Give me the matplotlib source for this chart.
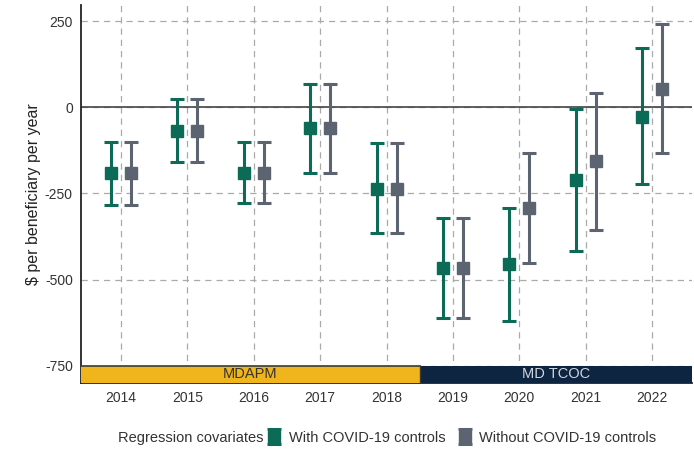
import matplotlib.pyplot as plt
import numpy as np

plt.rcParams['font.family'] = ['Liberation Sans', 'DejaVu Sans']

years = [2014, 2015, 2016, 2017, 2018, 2019, 2020, 2021, 2022]

# estimates and 95% interval bounds, $ per beneficiary per year
with_est = [-192, -70, -190, -61, -236, -465, -454, -212, -29]
with_lo = [-285, -160, -277, -192, -366, -611, -619, -416, -224]
with_hi = [-101, 23, -101, 67, -105, -320, -291, -6, 171]

without_est = [-192, -70, -190, -61, -236, -465, -291, -157, 52]
without_lo = [-285, -160, -277, -192, -366, -611, -451, -355, -134]
without_hi = [-101, 23, -101, 67, -105, -320, -134, 41, 241]

green = '#0b6b57'
grey = '#5b6470'
gold = '#f0b41c'
navy = '#0e2541'

fig = plt.figure(figsize=(6.94, 4.5), dpi=100)
ax = fig.add_axes([0.117, 0.149, 0.88, 0.84])

x = np.array(years)
dodge = 0.15

def draw(xs, est, lo, hi, color, label):
    est = np.array(est)
    err = [est - np.array(lo), np.array(hi) - est]
    ax.errorbar(xs, est, yerr=err, fmt='s', color=color, ecolor=color,
                elinewidth=2.2, capsize=5, capthick=2.2, markersize=8,
                label=label, zorder=4)

draw(x - dodge, with_est, with_lo, with_hi, green, 'With COVID-19 controls')
draw(x + dodge, without_est, without_lo, without_hi, grey, 'Without COVID-19 controls')

ax.axhline(0, color='#444444', lw=1.2, zorder=2)

xmin, xmax = 2013.4, 2022.6
ymin, ymax = -800, 297
ax.set_xlim(xmin, xmax)
ax.set_ylim(ymin, ymax)

# program period bands along the bottom
ax.fill_between([xmin, 2018.5], ymin, -750, color=gold, zorder=3, lw=0)
ax.fill_between([2018.5, xmax], ymin, -750, color=navy, zorder=3, lw=0)
ax.plot([xmin, 2018.5], [-750, -750], color='#3a3a3a', lw=1.2, zorder=3)
ax.plot([2018.5, 2018.5], [ymin, -750], color='#3a3a3a', lw=1, zorder=3)
ax.text((xmin + 2018.5) / 2, -775, 'MDAPM', ha='center', va='center',
        fontsize=10.5, color='#333333', zorder=5)
ax.text((2018.5 + xmax) / 2, -775, 'MD TCOC', ha='center', va='center',
        fontsize=10.5, color='#d0d6e0', zorder=5)

ax.set_xticks(years)
ax.set_yticks([250, 0, -250, -500, -750])
ax.set_yticklabels(['250', '0', '-250', '-500', '-750'])
ax.tick_params(length=0, labelsize=10, labelcolor='#333333', pad=6)
ax.grid(True, ls=(0, (5, 4)), color='#aaaaaa', lw=0.9, zorder=0)
ax.set_axisbelow(True)

for side in ['top', 'right']:
    ax.spines[side].set_visible(False)
ax.spines['left'].set_color('#222222')
ax.spines['left'].set_linewidth(1.3)
ax.spines['bottom'].set_color('#222222')
ax.spines['bottom'].set_linewidth(1.3)

ax.set_ylabel('$ per beneficiary per year', fontsize=11.5, color='#222222', labelpad=3)

fig.text(0.17, 0.027, 'Regression covariates', fontsize=10.5, color='#333333', va='center')
fig.legend(loc='center left', bbox_to_anchor=(0.385, 0.027), ncol=2, frameon=False,
           fontsize=10.5, handlelength=1.0, handletextpad=0.5, columnspacing=0.8,
           labelcolor='#333333', borderpad=0, borderaxespad=0)

fig.savefig('out.png', dpi=100, facecolor='white')
